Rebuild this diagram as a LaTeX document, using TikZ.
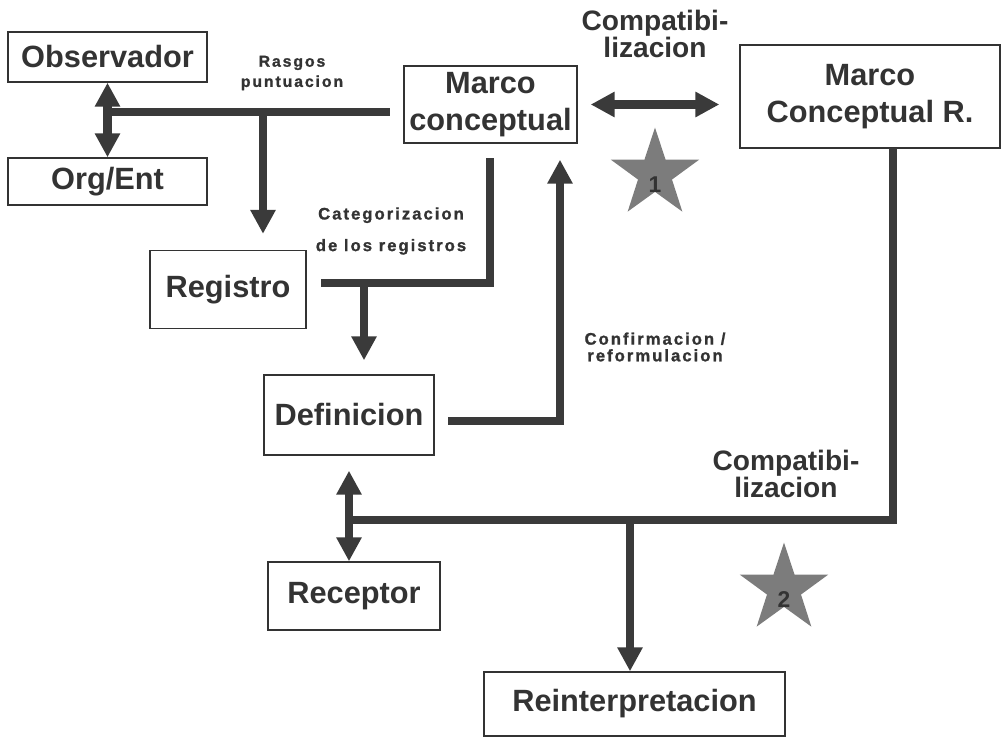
\documentclass[tikz,border=0pt]{standalone}
\usepackage{fontspec}
\setmainfont{Liberation Sans}
\newfontfamily\spacedfont[LetterSpace=12,BoldFeatures={FakeBold=1.2}]{Liberation Sans}
\usetikzlibrary{arrows.meta,shapes.geometric}
\definecolor{ink}{HTML}{333333}
\definecolor{wirecol}{HTML}{3A3A3A}
\definecolor{stargray}{HTML}{7C7C7C}

\begin{document}
\begin{tikzpicture}[x=0.02cm, y=-0.02cm,
    box/.style={draw=ink, line width=0.8pt, text=ink, inner sep=0pt, align=center,
        font=\bfseries\fontsize{17.5}{21}\selectfont},
    wire/.style={draw=wirecol, line width=0.17cm},
    tip/.style={wire, -{Triangle[length=0.48cm,width=0.48cm]}},
    dtip/.style={wire, {Triangle[length=0.48cm,width=0.48cm]}-{Triangle[length=0.48cm,width=0.48cm]}},
    lbl/.style={text=ink, align=center, font=\spacedfont\bfseries\fontsize{9.5}{9.5}\selectfont},
    midlbl/.style={text=ink, align=center, font=\bfseries\fontsize{16}{15}\selectfont},
    starbox/.style={star, star points=5, star point ratio=2.6, fill=stargray, minimum size=1.86cm,
        inner sep=0pt},
    starnum/.style={text=ink, inner sep=0pt, yshift=-0.22cm, font=\bfseries\fontsize{13}{13}\selectfont}]

    % Fix the page size
    \useasboundingbox (0,0) rectangle (1001,737);

    % Draw boxes
    \node[box, minimum width=3.98cm, minimum height=1cm] (obs) at (107.5,57) {Observador};
    \node[box, minimum width=3.98cm, minimum height=0.94cm] (org) at (107.5,181.5) {Org/Ent};
    \node[box, minimum width=3.46cm, minimum height=1.54cm] (mc) at (490.5,104.5) {Marco\\conceptual};
    \node[box, minimum width=5.2cm, minimum height=2.06cm] (mcr) at (870,96.5) {Marco\\Conceptual R.};
    \node[box, minimum width=3.12cm, minimum height=1.56cm] (reg) at (228,289.5) {Registro};
    \node[box, minimum width=3.4cm, minimum height=1.6cm] (def) at (349,415) {Definicion};
    \node[box, minimum width=3.44cm, minimum height=1.36cm] (rec) at (354,596) {Receptor};
    \node[box, minimum width=6.02cm, minimum height=1.28cm] (rei) at (634.5,704) {Reinterpretacion};

    % Draw stars
    \node[starbox] (s1) at (655,174) {};
    \node[starnum] (n1) at (s1) {1};
    \node[starbox] (s2) at (784,589) {};
    \node[starnum] (n2) at (s2) {2};

    % Observador, Org/Ent and Registro
    \draw[dtip] (obs.south) -- (org.north);
    \coordinate (j1) at (107,112);
    \coordinate (r1) at (390,112);
    \draw[wire] (j1) -- (r1);
    \coordinate (j2) at (263,112);
    \draw[tip, shorten >=0.32cm] (j2) -- (j2 |- reg.north);

    % Marco conceptual down to Definicion
    \coordinate (c1) at (490,158);
    \coordinate (c3) at (321,283);
    \draw[wire] (c1) |- (c3);
    \coordinate (j3) at (364,283);
    \draw[tip, shorten >=0.28cm] (j3) -- (j3 |- def.north);

    % Definicion back up to Marco conceptual
    \coordinate (d1) at (448,421);
    \coordinate (d2) at (560,421);
    \draw[tip, shorten >=0.32cm] (d1) -| (mc.south -| d2);

    % Marco conceptual <-> Marco Conceptual R.
    \draw[dtip, shorten <=0.26cm, shorten >=0.4cm] (mc.east) -- (mc.east -| mcr.west);

    % Marco Conceptual R. down to Receptor and Reinterpretacion
    \coordinate (m1) at (893,148);
    \coordinate (j4) at (349,520);
    \draw[wire] (m1) |- (j4);
    \draw[dtip, shorten <=0.3cm] (def.south) -- (def.south |- rec.north);
    \coordinate (j5) at (630,520);
    \draw[tip] (j5) -- (j5 |- rei.north);

    % Labels
    \node[lbl, font=\spacedfont\bfseries\fontsize{9}{11.5}\selectfont] (l1) at (292,73) {Rasgos\\puntuacion};
    \node[lbl, font=\spacedfont\bfseries\fontsize{9.5}{18}\selectfont] (l2) at (391,231) {Categorizacion\\de los registros};
    \node[lbl] (l3) at (655,347) {Confirmacion /\\reformulacion};
    \node[midlbl] (l4) at (655,34) {Compatibi-\\lizacion};
    \node[midlbl] (l5) at (786,474) {Compatibi-\\lizacion};
\end{tikzpicture}
\end{document}
